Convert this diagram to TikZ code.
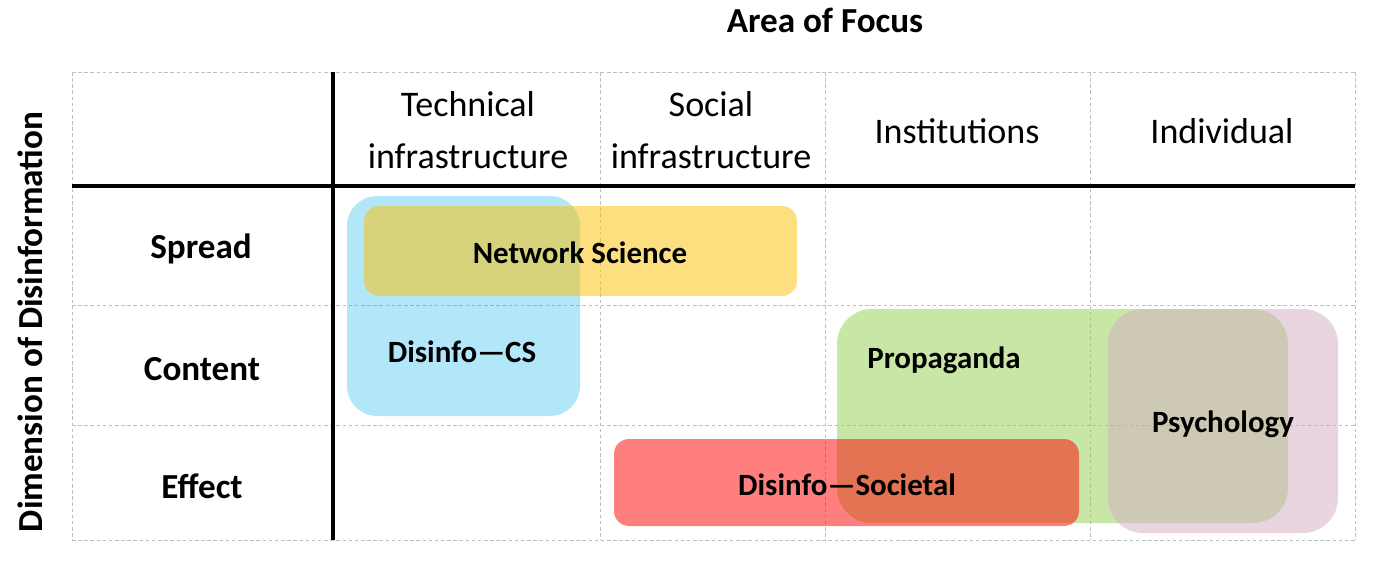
\documentclass[tikz,border=0pt]{standalone}
\usepackage{fontspec}
\setmainfont{Carlito}
\usetikzlibrary{positioning}
\definecolor{csblue}{HTML}{00B0F0}
\definecolor{netgold}{HTML}{FBBF00}
\definecolor{propgreen}{HTML}{92D050}
\definecolor{psymauve}{HTML}{D1ABC1}
\definecolor{socred}{HTML}{FF0000}
\definecolor{gridgray}{HTML}{BFBFBF}

\begin{document}
\begin{tikzpicture}[x=0.02cm, y=-0.02cm]
    \tikzset{grid/.style={draw=gridgray, dash pattern=on 2pt off 1.5pt, line width=0.5pt},
      bar/.style={line width=2.8pt},
      head/.style={font=\fontsize{20.5}{30}\selectfont, align=center},
      rowlab/.style={font=\fontsize{20}{24}\selectfont\bfseries},
      boxlab/.style={font=\fontsize{17.6}{21}\selectfont\bfseries}}
    \useasboundingbox (0,0) rectangle (1380,568);
    % dashed grid
    \foreach \y in {72,305,425,540}
      \draw[grid] (72,\y) -- (1355,\y);
    \foreach \x in {72,600,825,1090,1355}
      \draw[grid] (\x,72) -- (\x,540);
    % areas
    \fill[csblue, opacity=0.3, rounded corners=0.6cm] (347,196) rectangle (580,416);
    \fill[netgold, opacity=0.5, rounded corners=0.3cm] (364,206) rectangle (797,296);
    \fill[propgreen, opacity=0.5, rounded corners=0.7cm] (837,309) rectangle (1288,523);
    \fill[psymauve, opacity=0.5, rounded corners=0.7cm] (1108,309) rectangle (1338,533);
    \fill[socred, opacity=0.5, rounded corners=0.3cm] (614,439) rectangle (1079,526);
    % axes
    \draw[bar] (333,72) -- (333,540);
    \draw[bar] (72,186) -- (1355,186);
    \node[rowlab] (title) at (825,20) {Area of Focus};
    \node[rowlab, rotate=90] (dimlab) at (30,322) {Dimension of Disinformation};
    \node[head] (hTech) at (468,130) {Technical\\infrastructure};
    \node[head] (hSoc) at (711,130) {Social\\infrastructure};
    \node[head] (hInst) at (957,131) {Institutions};
    \node[head] (hIndiv) at (1222,131) {Individual};
    \node[rowlab] (rSpread) at (201,249) {Spread};
    \node[rowlab] (rContent) at (202,369) {Content};
    \node[rowlab] (rEffect) at (202,486) {Effect};
    \node[boxlab] (lNet) at (580,253) {Network Science};
    \node[boxlab] (lCS) at (462,352) {Disinfo—CS};
    \node[boxlab] (lProp) at (944,360) {Propaganda};
    \node[boxlab] (lPsy) at (1223,424) {Psychology};
    \node[boxlab] (lSoc) at (847,485) {Disinfo—Societal};
\end{tikzpicture}
\end{document}
